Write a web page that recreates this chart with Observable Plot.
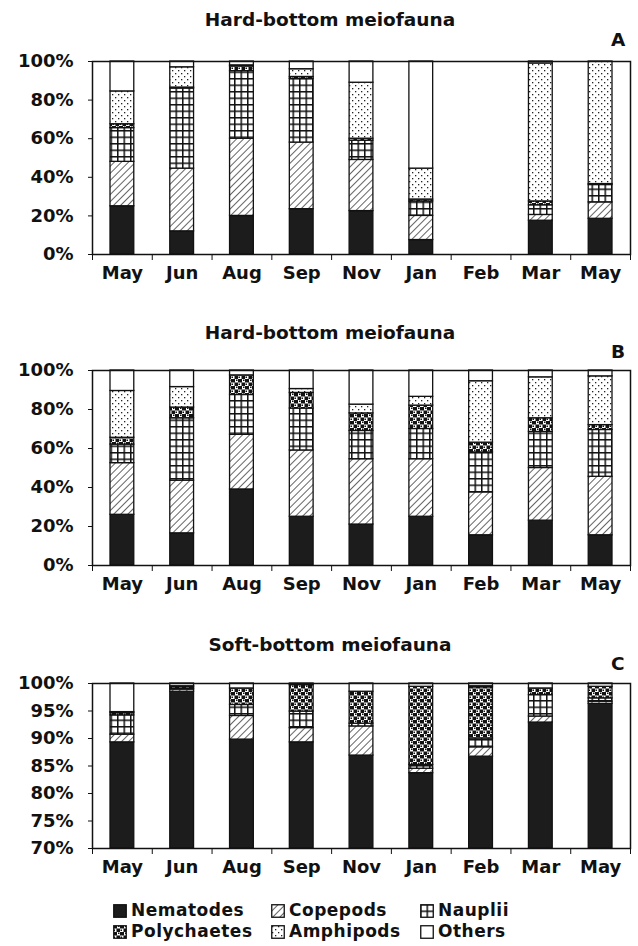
<!DOCTYPE html>
<html><head><meta charset="utf-8">
<script src="https://cdn.jsdelivr.net/npm/d3@7"></script>
<script src="https://cdn.jsdelivr.net/npm/@observablehq/plot@0.6"></script>
<style>
body{margin:0;background:#fff;}
#root{position:relative;width:638px;height:946px;font-family:"DejaVu Sans",sans-serif;font-weight:bold;color:#111;overflow:hidden;}
.abs{position:absolute;white-space:nowrap;}
.title{left:0;width:660px;text-align:center;font-size:18.5px;line-height:20px;}
.letter{left:611px;font-size:18.5px;line-height:20px;}
.leg{font-size:17px;line-height:17px;letter-spacing:0.5px;display:flex;align-items:center;height:17px;}
.leg svg{margin-right:4px;}
</style></head>
<body>
<svg width="0" height="0" style="position:absolute">
  <defs>
    <pattern id="p-cop" width="5" height="5" patternUnits="userSpaceOnUse" patternTransform="rotate(45)">
      <rect width="5" height="5" fill="#fff"/>
      <line x1="0" y1="0" x2="0" y2="5" stroke="#111" stroke-width="1.3"/>
    </pattern>
    <pattern id="p-nau" width="6.5" height="6.5" patternUnits="userSpaceOnUse">
      <rect width="6.5" height="6.5" fill="#111"/>
      <rect x="1.5" y="1.5" width="5" height="5" fill="#fff"/>
    </pattern>
    <pattern id="p-pol" width="7" height="7" patternUnits="userSpaceOnUse">
      <rect width="7" height="7" fill="#fff"/>
      <rect x="0" y="0" width="4" height="3.5" fill="#111"/>
      <rect x="3.5" y="3.5" width="3.5" height="3.5" fill="#111"/>
      <rect x="5" y="0.5" width="1.5" height="1.5" fill="#111"/>
      <rect x="0.5" y="4.5" width="1.5" height="1.5" fill="#111"/>
    </pattern>
    <pattern id="p-amp" width="6" height="6" patternUnits="userSpaceOnUse">
      <rect width="6" height="6" fill="#fff"/>
      <rect x="1" y="1" width="1.3" height="1.3" fill="#222"/>
      <rect x="4" y="4" width="1.3" height="1.3" fill="#222"/>
    </pattern>
  </defs>
</svg>
<div id="root"></div>
<script>
// ---- data (percent of total meiofauna) ----
const months = ["May", "Jun", "Aug", "Sep", "Nov", "Jan", "Feb", "Mar", "May"];
const categories = ["Nematodes", "Copepods", "Nauplii", "Polychaetes", "Amphipods", "Others"];

// Panel A: Hard-bottom meiofauna (Feb missing)
const aNematodes   = [25, 12, 20, 23.5, 22.5, 7.5, null, 17.5, 18.5];
const aCopepods    = [23, 32.5, 40, 34.5, 26.5, 12.5, null, 3, 8.5];
const aNauplii     = [17.5, 41.5, 35, 33, 10, 7.5, null, 5, 9];
const aPolychaetes = [2, 0.5, 2.5, 1, 1, 1, null, 2, 0.5];
const aAmphipods   = [17, 10.5, 0.5, 4, 29, 16, null, 71.5, 63.5];
const aOthers      = [15.5, 3, 2, 4, 11, 55.5, null, 1, 0];

// Panel B: Hard-bottom meiofauna
const bNematodes   = [26, 16.5, 39, 25, 21, 25, 15.5, 23, 15.5];
const bCopepods    = [26.5, 27, 28, 34, 33.5, 29.5, 22, 27, 30];
const bNauplii     = [9.5, 32, 20.5, 21.5, 14.5, 15.5, 20.5, 18.5, 24];
const bPolychaetes = [3.5, 5.5, 10, 8, 9, 12, 5, 7, 2.5];
const bAmphipods   = [24, 10.5, 0, 2, 4.5, 4.5, 31.5, 21, 25];
const bOthers      = [10.5, 8.5, 2.5, 9.5, 17.5, 13.5, 5.5, 3.5, 3];

// Panel C: Soft-bottom meiofauna
const cNematodes   = [89.3, 98.5, 89.8, 89.3, 86.9, 83.7, 86.7, 92.9, 96.3];
const cCopepods    = [1.4, 0.4, 4.3, 2.6, 5.3, 0.8, 1.7, 1.1, 0.4];
const cNauplii     = [3.5, 0.2, 2.0, 3.0, 0.5, 0.7, 1.6, 3.9, 0.6];
const cPolychaetes = [0.4, 0.3, 3.0, 4.8, 5.8, 14.2, 9.3, 1.2, 2.1];
const cAmphipods   = [0.2, 0.1, 0, 0, 0, 0, 0.2, 0, 0];
const cOthers      = [5.2, 0.5, 0.9, 0.3, 1.5, 0.6, 0.5, 0.9, 0.6];

const yTicksAB = [0, 20, 40, 60, 80, 100];
const yTicksC = [70, 75, 80, 85, 90, 95, 100];

// ---- styling ----
const fills = {
  Nematodes: "#1c1c1c", Copepods: "url(#p-cop)", Nauplii: "url(#p-nau)",
  Polychaetes: "url(#p-pol)", Amphipods: "url(#p-amp)", Others: "#ffffff"
};

function toRows(series) {
  const out = [];
  months.forEach((m, i) => categories.forEach((c, k) => {
    const v = series[k][i];
    if (v != null && v > 0) out.push({i, i2: i + 1, cat: c, value: v});
  }));
  return out;
}

function panel(series, yDomain, yTicks, top, frameH) {
  const data = toRows(series);
  const svg = Plot.plot({
    width: 638,
    height: 61 + frameH + 35,
    marginLeft: 92, marginRight: 8, marginTop: 61, marginBottom: 35,
    style: {fontFamily: "DejaVu Sans, sans-serif", fontSize: "18px", fontWeight: "bold", color: "#111", background: "transparent", overflow: "visible"},
    x: {domain: [0, months.length], ticks: d3.range(months.length + 1), tickFormat: () => "", tickSize: 6, label: null},
    y: {domain: yDomain, ticks: yTicks, tickFormat: d => d + "%", tickSize: 4, tickPadding: 15, label: null, clamp: true},
    color: {domain: categories, range: categories.map(c => fills[c])},
    marks: [
      Plot.rectY(data, {x1: "i", x2: "i2", y: "value", fill: "cat", stroke: "#111", strokeWidth: 1.3, insetLeft: 18, insetRight: 18}),
      Plot.frame({stroke: "#111", strokeWidth: 1.5}),
      Plot.text(months, {x: (d, i) => i + 0.5, frameAnchor: "bottom", dy: 24, text: d => d, fontSize: 18, fontWeight: "bold", fill: "#111"})
    ]
  });
  svg.style.position = "absolute";
  svg.style.left = "0px";
  svg.style.top = top + "px";
  d3.select(svg).selectAll("text").attr("font-size", 18).attr("font-weight", "bold");
  return svg;
}

const root = document.getElementById("root");
root.appendChild(panel([aNematodes, aCopepods, aNauplii, aPolychaetes, aAmphipods, aOthers], [0, 100], yTicksAB, 0, 193));
root.appendChild(panel([bNematodes, bCopepods, bNauplii, bPolychaetes, bAmphipods, bOthers], [0, 100], yTicksAB, 309, 195));
root.appendChild(panel([cNematodes, cCopepods, cNauplii, cPolychaetes, cAmphipods, cOthers], [70, 100], yTicksC, 622, 165));

function addDiv(cls, text, top, left) {
  const d = document.createElement("div");
  d.className = "abs " + cls;
  d.textContent = text;
  d.style.top = top + "px";
  if (left != null) d.style.left = left + "px";
  root.appendChild(d);
}
addDiv("title", "Hard-bottom meiofauna", 10);
addDiv("letter", "A", 30);
addDiv("title", "Hard-bottom meiofauna", 323);
addDiv("letter", "B", 342);
addDiv("title", "Soft-bottom meiofauna", 635);
addDiv("letter", "C", 654);

// legend
const legendPos = [[113, 902], [271, 902], [420, 902], [113, 923], [271, 923], [420, 923]];
const legendOrder = ["Nematodes", "Copepods", "Nauplii", "Polychaetes", "Amphipods", "Others"];
legendOrder.forEach((c, k) => {
  const d = document.createElement("div");
  d.className = "abs leg";
  d.style.left = legendPos[k][0] + "px";
  d.style.top = legendPos[k][1] + "px";
  d.innerHTML = `<svg width="14" height="14"><rect x="0.75" y="0.75" width="12.5" height="12.5" fill="${fills[c]}" stroke="#111" stroke-width="1.3"/></svg><span>${c}</span>`;
  root.appendChild(d);
});
</script>
</body></html>
